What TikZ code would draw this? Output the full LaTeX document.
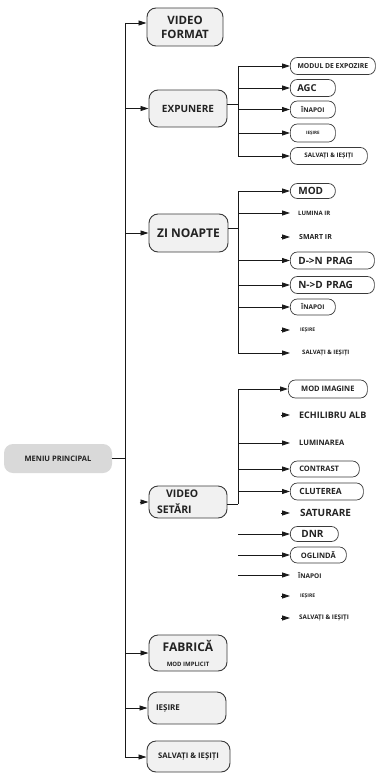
\documentclass[tikz,border=0pt]{standalone}
\usepackage{fontspec}
\setmainfont{Open Sans}
\usetikzlibrary{arrows.meta}
\definecolor{txt}{HTML}{222222}
\definecolor{brd}{HTML}{3A3A3A}
\definecolor{mfill}{HTML}{F1F1F1}
\definecolor{menufill}{HTML}{D9D9D9}
\tikzset{
  ln/.style={line width=0.8pt, draw=black!90},
  arr/.style={ln, -{Triangle[length=8pt,width=5pt]}},
  fs/.style={font=\bfseries\fontsize{#1pt}{#1pt}\selectfont},
  mainbox/.style={draw=brd, fill=mfill, line width=0.9pt, rounded corners=9pt, inner sep=0pt, text=txt},
  subbox/.style={draw=brd, fill=white, line width=0.7pt, rounded corners=7pt, inner sep=0pt, anchor=west, text=txt},
  lefttxt/.style={text width=#1, align=left},
  plain/.style={anchor=west, inner ysep=0pt, text=txt},
}
\begin{document}
\begin{tikzpicture}[x=1pt, y=-1pt]
\useasboundingbox (0,0) rectangle (376,773);

% ---------- main level ----------
\node[mainbox, draw=none, fill=menufill, minimum width=108pt, minimum height=29pt, fs=7.5] (mp) at (58,458.5) {MENIU PRINCIPAL};
\node[mainbox, minimum width=76pt, minimum height=38pt, align=center, font=\bfseries\fontsize{11.5pt}{14pt}\selectfont] (vf) at (185,27) {VIDEO\\FORMAT};
\node[mainbox, minimum width=78pt, minimum height=37pt, fs=10] (exp) at (188,108.5) {EXPUNERE};
\node[mainbox, minimum width=79pt, minimum height=38pt, fs=12] (zn) at (188.5,233) {ZI NOAPTE};
\node[mainbox, minimum width=78pt, minimum height=32pt, inner xsep=8pt, text width=62pt, align=left, font=\bfseries\fontsize{10.5pt}{16pt}\selectfont] (vs) at (188,502) {\hspace*{9pt}VIDEO\\SETĂRI};
\node[mainbox, minimum width=78pt, minimum height=36pt, align=center, font=\bfseries\fontsize{6pt}{9pt}\selectfont] (fab) at (188,653) {{\fontsize{12pt}{14pt}\selectfont FABRICĂ}\\[6pt]MOD IMPLICIT};
\node[mainbox, minimum width=78pt, minimum height=32pt, inner xsep=8pt, text width=62pt, align=left, fs=8] (ies) at (187,708) {IEȘIRE};
\node[mainbox, minimum width=83pt, minimum height=31pt, fs=7.7] (sav) at (188.5,756.5) {SALVAȚI \& IEȘIȚI};

\coordinate (spTop) at (125,23);
\coordinate (spBot) at (125,757);
\draw[ln] (spTop) -- (spBot);
\draw[ln] (mp.east) -- (mp.east -| spTop);
\draw[arr] (spTop) -- (spTop -| vf.west);
\draw[arr] (spTop |- exp.west) -- (exp.west);
\draw[arr] (spTop |- zn.west) -- (zn.west);
\draw[arr] ([xshift=-9pt]vs.west) -- (vs.west);
\draw[arr] (spTop |- fab.west) -- (fab.west);
\draw[arr] (spTop |- ies.west) -- (ies.west);
\draw[arr] (spBot) -- (spBot -| sav.west);

% ---------- EXPUNERE ----------
\node[subbox, minimum width=85pt, minimum height=17pt, fs=6.8] (e1) at (290,66) {MODUL DE EXPOZIRE};
\node[subbox, minimum width=45pt, minimum height=17pt, inner xsep=7pt, lefttxt=31pt, fs=9.5] (e2) at (290,88) {AGC};
\node[subbox, minimum width=45pt, minimum height=17pt, fs=6.5] (e3) at (290,109.5) {ÎNAPOI};
\node[subbox, minimum width=45pt, minimum height=18pt, fs=4.5] (e4) at (290,133) {IEȘIRE};
\node[subbox, minimum width=77pt, minimum height=17pt, fs=6.2] (e5) at (290,156) {SALVAȚI \& IEȘIȚI};

\coordinate (eb) at (238,104);
\draw[ln] (exp.east |- eb) -- (eb);
\draw[ln] (eb |- e1.west) -- (eb |- e5.west);
\foreach \n in {e1,e2,e3,e4,e5} \draw[arr] (eb |- \n.west) -- (\n.west);

% ---------- ZI NOAPTE ----------
\node[subbox, minimum width=45pt, minimum height=15pt, inner xsep=8pt, lefttxt=29pt, fs=10] (z1) at (290,191) {MOD};
\node[plain, inner xsep=8pt, fs=6] (z2) at (290,213) {LUMINA IR};
\node[plain, inner xsep=9pt, fs=7] (z3) at (290,237) {SMART IR};
\node[subbox, minimum width=84pt, minimum height=17pt, inner xsep=8pt, lefttxt=68pt, fs=10] (z4) at (290,260.5) {D->N PRAG};
\node[subbox, minimum width=84pt, minimum height=17pt, inner xsep=8pt, lefttxt=68pt, fs=10] (z5) at (290,285) {N->D PRAG};
\node[subbox, minimum width=45pt, minimum height=16pt, fs=6.5] (z6) at (290,307) {ÎNAPOI};
\node[plain, inner xsep=10pt, fs=5] (z7) at (290,330) {IEȘIRE};
\node[plain, inner xsep=12pt, fs=6] (z8) at (290,353) {SALVAȚI \& IEȘIȚI};

\coordinate (zb) at (238,228);
\draw[ln] (zn.east |- zb) -- (zb);
\draw[ln] (zb |- z1.west) -- (zb |- z8.west);
\foreach \n in {z1,z2,z4,z5,z6,z8} \draw[arr] (zb |- \n.west) -- (\n.west);
\foreach \n in {z3,z7} \draw[arr] ([xshift=-9pt]\n.west) -- (\n.west);

% ---------- VIDEO SETARI ----------
\node[subbox, minimum width=79pt, minimum height=18pt, fs=7.5] (v1) at (288,389) {MOD IMAGINE};
\node[plain, inner xsep=9pt, fs=9] (v2) at (290,415) {ECHILIBRU ALB};
\node[plain, inner xsep=9pt, fs=7.5] (v3) at (290,443) {LUMINAREA};
\node[subbox, minimum width=69pt, minimum height=16pt, inner xsep=9pt, lefttxt=51pt, fs=7.5] (v4) at (290,469) {CONTRAST};
\node[subbox, minimum width=73pt, minimum height=17pt, inner xsep=9pt, lefttxt=55pt, fs=8.5] (v5) at (290,491.5) {CLUTEREA};
\node[plain, inner xsep=10pt, fs=10] (v6) at (290,513) {SATURARE};
\node[subbox, minimum width=48pt, minimum height=15pt, inner xsep=11pt, lefttxt=26pt, fs=10] (v7) at (290,534) {DNR};
\node[subbox, minimum width=56pt, minimum height=16pt, fs=7.5] (v8) at (290,555) {OGLINDĂ};
\node[plain, inner xsep=8pt, fs=6.5] (v9) at (290,575) {ÎNAPOI};
\node[plain, inner xsep=10pt, fs=5] (v10) at (290,596) {IEȘIRE};
\node[plain, inner xsep=9pt, fs=6.3] (v11) at (290,618) {SALVAȚI \& IEȘIȚI};

\coordinate (vb) at (238,504);
\draw[ln] (vs.east |- vb) -- (vb);
\draw[ln] (vb |- v1.west) -- (vb);
\foreach \n in {v1,v3,v4,v5} \draw[arr] (vb |- \n.west) -- (\n.west);
\foreach \n in {v7,v8,v9} \draw[arr] (\n.west -| vb) -- (\n.west);
\foreach \n in {v2,v6,v10,v11} \draw[arr] ([xshift=-9pt]\n.west) -- (\n.west);
\end{tikzpicture}
\end{document}
